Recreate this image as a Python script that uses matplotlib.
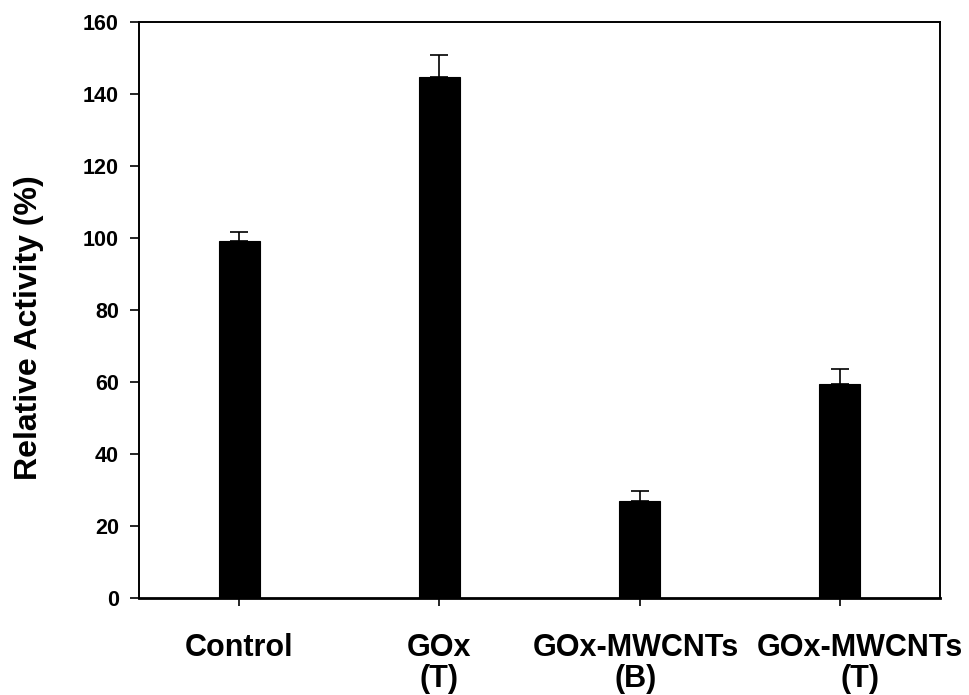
import matplotlib
matplotlib.use('Agg')
import matplotlib.pyplot as plt
import matplotlib.transforms as mtransforms

plt.rcParams['font.family'] = ['Liberation Sans', 'DejaVu Sans']
plt.rcParams['font.weight'] = 'bold'

# data
groups = ['Control', 'GOx\n(T)', 'GOx-MWCNTs\n(B)', 'GOx-MWCNTs\n(T)']
activity = [99.2, 144.8, 27.0, 59.4]
err_up = [2.6, 6.1, 2.6, 4.2]
yticks = [0, 20, 40, 60, 80, 100, 120, 140, 160]

fig = plt.figure(figsize=(9.69, 6.95), dpi=100)
ax = fig.add_axes([0.1434, 0.1396, 0.8267, 0.8287])

xpos = list(range(1, len(groups) + 1))
ax.bar(xpos, activity, width=0.205, color='black', edgecolor='black', linewidth=0.8, zorder=2)
ax.errorbar(xpos, activity, yerr=[[0] * len(err_up), err_up], fmt='none',
            ecolor='black', elinewidth=1.2, capsize=6.4, capthick=1.2, zorder=3)

ax.set_xlim(0.5, 4.5)
ax.set_ylim(0, 160)
ax.set_yticks(yticks)
ax.set_yticklabels([str(v) for v in yticks], fontsize=15.5, fontweight='bold')
ax.set_xticks(xpos)
ax.set_xticklabels(groups, fontsize=22, fontweight='bold', linespacing=1.05)
ax.set_ylabel('Relative Activity (%)', fontsize=23, fontweight='bold')
ax.yaxis.set_label_coords(-0.118, 0.47)

ax.tick_params(axis='y', direction='out', length=6.5, width=1.2, pad=8, right=False)
ax.tick_params(axis='x', direction='out', length=6, width=1.2, pad=19, top=False)

for sp in ax.spines.values():
    sp.set_linewidth(1.4)
ax.spines['bottom'].set_linewidth(2)

# nudge the two long labels apart, like the original
shifts = [0, 0, -4, 20]
for lab, dx in zip(ax.get_xticklabels(), shifts):
    lab.set_transform(lab.get_transform() + mtransforms.ScaledTranslation(dx / 100, 0, fig.dpi_scale_trans))

fig.savefig('out.png', dpi=100)
